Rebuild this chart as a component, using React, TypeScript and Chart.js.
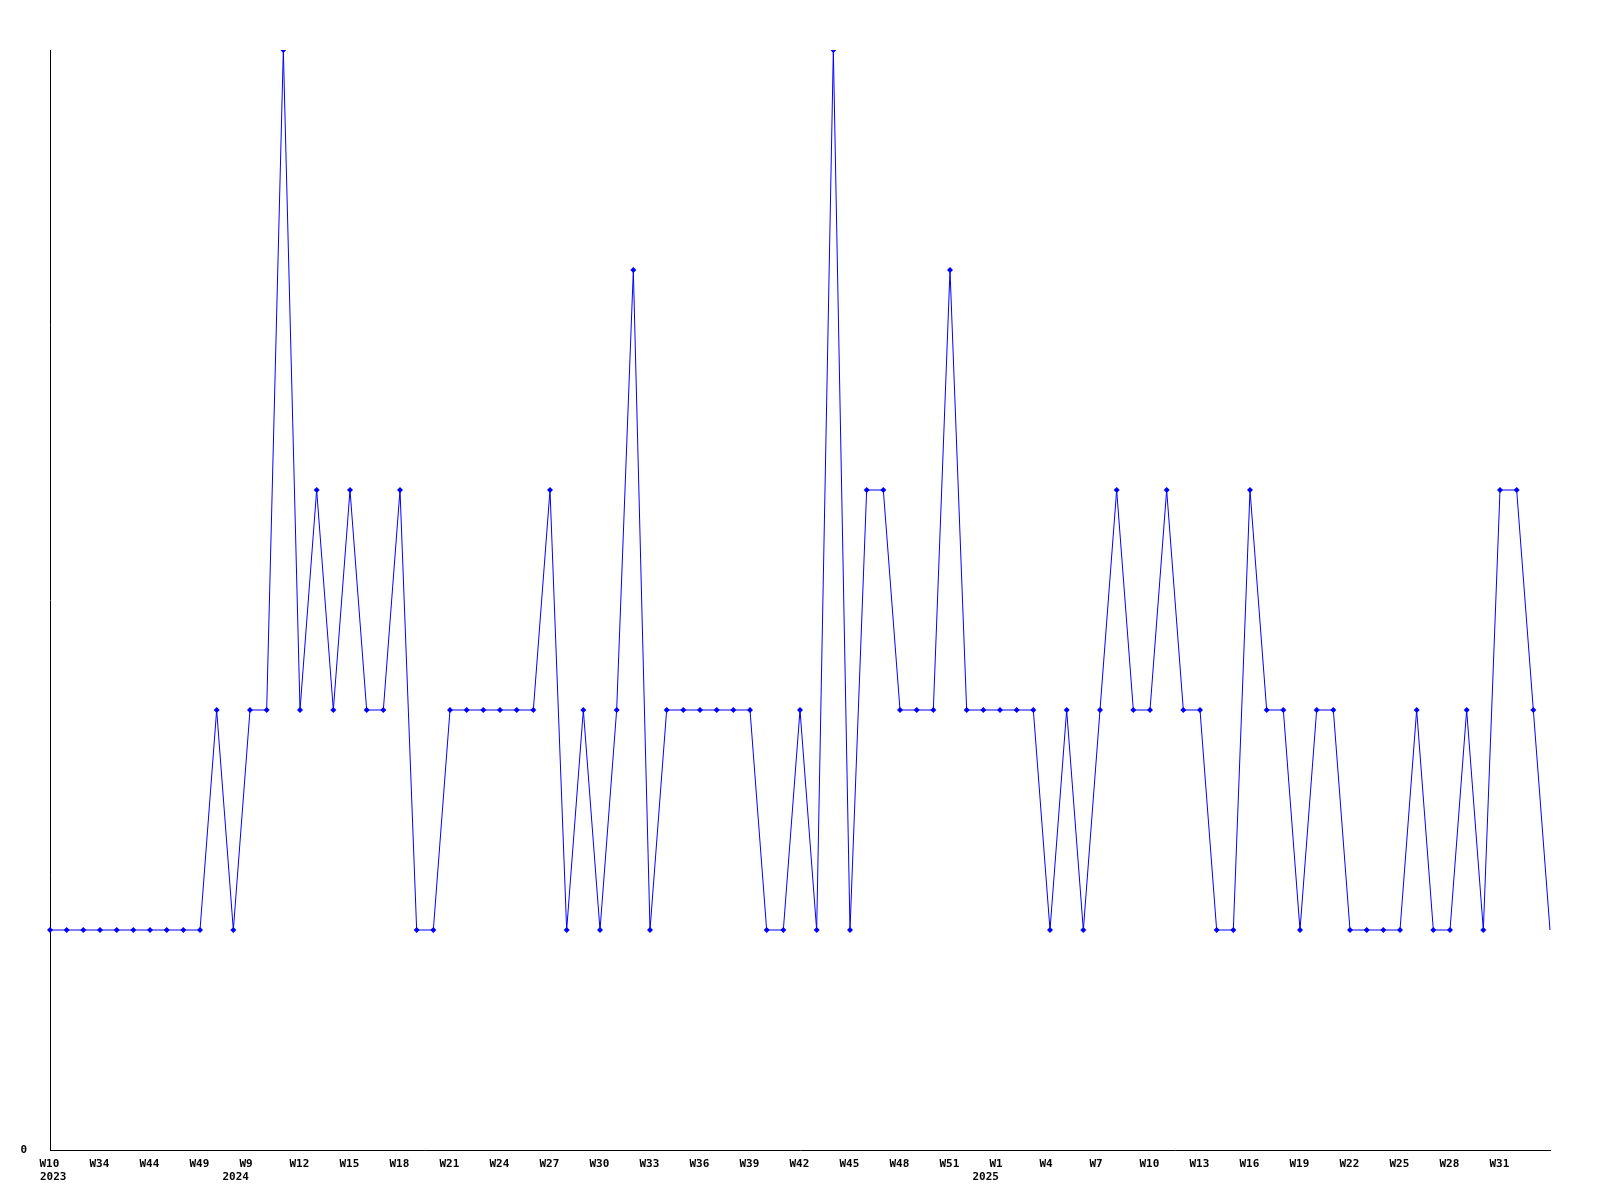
import React, { useEffect, useRef } from "react";
import { Chart, registerables } from "chart.js";

Chart.register(...registerables);

// Week categories (one point per category)
const weeks2023 = ["W10", "W22", "W30", "W34", "W38", "W41", "W44", "W45", "W47", "W49", "W50", "W52"];
const weeks2024 = [
  "W9", "W10", "W11", "W12", "W13", "W14", "W15", "W16", "W17", "W18", "W19", "W20", "W21", "W22", "W23",
  "W24", "W25", "W26", "W27", "W28", "W29", "W30", "W31", "W32", "W33", "W34", "W35", "W36", "W37", "W38",
  "W39", "W40", "W41", "W42", "W43", "W44", "W45", "W46", "W47", "W48", "W49", "W50", "W51", "W52", "W53",
];
const weeks2025 = [
  "W1", "W2", "W3", "W4", "W5", "W6", "W7", "W8", "W9", "W10", "W11", "W12", "W13", "W14", "W15", "W16",
  "W17", "W18", "W19", "W20", "W21", "W22", "W23", "W24", "W25", "W26", "W27", "W28", "W29", "W30", "W31",
  "W32", "W33", "W34",
];
const years = ["2023", "2024", "2025"];

// Series values
const values = [
  1, 1, 1, 1, 1, 1, 1, 1, 1, 1, 2, 1,
  2, 2, 5, 2, 3, 2, 3, 2, 2, 3, 1, 1, 2, 2, 2, 2, 2, 2, 3, 1, 2, 1, 2, 4, 1, 2, 2, 2, 2, 2, 2, 1, 1, 2, 1, 5,
  1, 3, 3, 2, 2, 2, 4, 2, 2,
  2, 2, 2, 1, 2, 1, 2, 3, 2, 2, 3, 2, 2, 1, 1, 3, 2, 2, 1, 2, 2, 1, 1, 1, 1, 2, 1, 1, 2, 1, 3, 3, 2, 1,
];

const yMin = 0;
const yMax = 5;
const tickEvery = 3;

const categories: string[] = [...weeks2023, ...weeks2024, ...weeks2025];
const yearStarts: number[] = [0, weeks2023.length, weeks2023.length + weeks2024.length];

const FONT_FAMILY = "'DejaVu Sans Mono', monospace";

const yearLabelsPlugin = {
  id: "yearLabels",
  afterDraw(chart: any) {
    const xs = chart.scales.x;
    const ctx = chart.ctx;
    ctx.save();
    ctx.font = `bold 11px ${FONT_FAMILY}`;
    ctx.fillStyle = "#000000";
    ctx.textAlign = "left";
    ctx.textBaseline = "top";
    yearStarts.forEach((idx, k) => {
      const px = xs.getPixelForValue(idx);
      const x = Math.max(px - 27.5, 40);
      ctx.fillText(years[k], x, xs.top + 7 + 15);
    });
    ctx.restore();
  },
};

export default function App() {
  const ref = useRef<HTMLCanvasElement | null>(null);

  useEffect(() => {
    if (!ref.current) return;
    const font = { family: FONT_FAMILY, size: 11, weight: "bold" as const, lineHeight: "15px" };
    const chart = new Chart(ref.current, {
      type: "line",
      data: {
        labels: categories,
        datasets: [
          {
            data: values,
            borderColor: "#0000ff",
            backgroundColor: "#0000ff",
            borderWidth: 1,
            tension: 0,
            fill: false,
            pointStyle: "rectRot",
            pointRadius: (ctx: any) => (ctx.dataIndex === values.length - 1 ? 0 : 3),
            pointBorderWidth: 0,
            pointBackgroundColor: "#0000ff",
          },
        ],
      },
      options: {
        animation: false,
        responsive: false,
        maintainAspectRatio: false,
        layout: { padding: { top: 50, right: 50, left: 0, bottom: 0 } },
        plugins: { legend: { display: false }, tooltip: { enabled: false } },
        scales: {
          x: {
            type: "category",
            offset: false,
            grid: { display: false, drawTicks: false },
            border: { display: true, color: "#000000", width: 1 },
            ticks: {
              autoSkip: false,
              maxRotation: 0,
              minRotation: 0,
              padding: 7,
              align: "start",
              labelOffset: -10.5,
              color: "#000000",
              font,
              callback: (_v: any, i: number) => {
                if (i % tickEvery !== 0 || i >= categories.length - 1) return "";
                return categories[i];
              },
            },
            afterFit: (s: any) => {
              s.height = 50;
              s.paddingLeft = 0;
              s.paddingRight = 0;
            },
          },
          y: {
            min: yMin,
            max: yMax,
            grid: { display: false, drawTicks: false },
            border: { display: true, color: "#000000", width: 1 },
            afterBuildTicks: (s: any) => {
              s.ticks = [{ value: 0 }];
            },
            ticks: {
              padding: 23,
              color: "#000000",
              font,
              callback: (v: any) => String(v),
            },
            afterFit: (s: any) => {
              s.width = 50;
              s.paddingTop = 0;
              s.paddingBottom = 0;
            },
          },
        },
      },
      plugins: [yearLabelsPlugin],
    });
    return () => chart.destroy();
  }, []);

  return (
    <div style={{ position: "fixed", left: 0, top: 0, width: 1600, height: 1200, background: "#ffffff" }}>
      <canvas ref={ref} width={1600} height={1200} style={{ width: 1600, height: 1200, display: "block" }} />
    </div>
  );
}
